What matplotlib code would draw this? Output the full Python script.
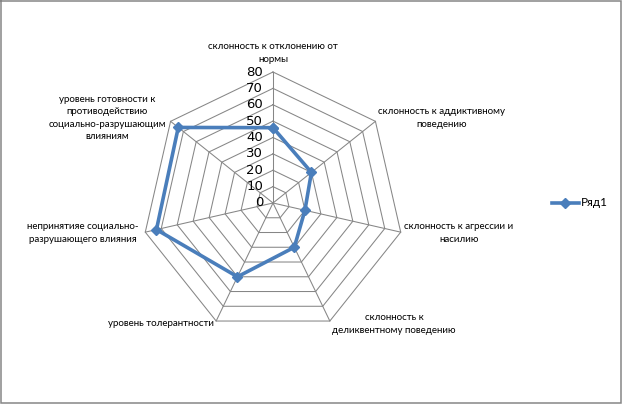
import numpy as np
from matplotlib import pyplot as plt

categories = [
    'склонность к отклонению от\nнормы',
    'склонность к аддиктивному\nповедению',
    'склонность к агрессии и\nнасилию',
    'склонность к\nделиквентному поведению',
    'уровень толерантности',
    'непринятияе социально-\nразрушающего влияния',
    'уровень готовности к\nпротиводействию\nсоциально-разрушающим\nвлияниям',
]
values = [46, 30, 20, 30, 50, 73, 74]
ticks = [0, 10, 20, 30, 40, 50, 60, 70, 80]
series_name = 'Ряд1'

W, H = 622, 404
cx, cy = 273, 203
rmax = 131.0
scale = rmax / 80

fig = plt.figure(figsize=(W / 100, H / 100), dpi=100)
ax = fig.add_axes([0, 0, 1, 1])
ax.set_xlim(-cx, W - cx)
ax.set_ylim(-(H - cy), cy)
ax.axis('off')

n = len(categories)
angles = np.pi / 2 - 2 * np.pi * np.arange(n) / n

grid_col = '#868686'
for t in ticks[1:]:
    a = np.append(angles, angles[0])
    ax.plot(t * scale * np.cos(a), t * scale * np.sin(a), color=grid_col, lw=0.75, zorder=1)
for a in angles:
    ax.plot([0, ticks[-1] * scale * np.cos(a)], [0, ticks[-1] * scale * np.sin(a)],
            color=grid_col, lw=0.75, zorder=1)

for t in ticks:
    ax.text(-10, t * scale, str(t), ha='right', va='center', fontsize=9.5,
            family='DejaVu Sans', color='#000000')

v = np.append(values, values[0])
a = np.append(angles, angles[0])
ax.plot(v * scale * np.cos(a), v * scale * np.sin(a), color='#4A7EBB', lw=2.6,
        marker='D', markersize=5, zorder=3)

# label centres (pixel offsets from the centre)
label_pos = [(0, 150), (169, 85), (186, -30), (121, -121), (-112, -121), (-190, -30), (-166, 85)]
for lab, (lx, ly) in zip(categories, label_pos):
    ax.text(lx, ly, lab, ha='center', va='center', fontsize=7, family='Lato',
            linespacing=1.45, multialignment='center')

# legend
ax.plot([551.7 - cx, 579 - cx], [0, 0], color='#4A7EBB', lw=2.6)
ax.plot([565 - cx], [0], color='#4A7EBB', marker='D', markersize=5)
ax.text(581 - cx, 0, series_name, ha='left', va='center', fontsize=8.5, family='Lato')

# chart area border
bx = [0.5 - cx, 620.5 - cx, 620.5 - cx, 0.5 - cx, 0.5 - cx]
by = [cy - 0.5, cy - 0.5, cy - 402.5, cy - 402.5, cy - 0.5]
ax.plot(bx, by, color='#868686', lw=1.1, clip_on=False, solid_joinstyle='miter')

fig.savefig('out.png', dpi=100)
